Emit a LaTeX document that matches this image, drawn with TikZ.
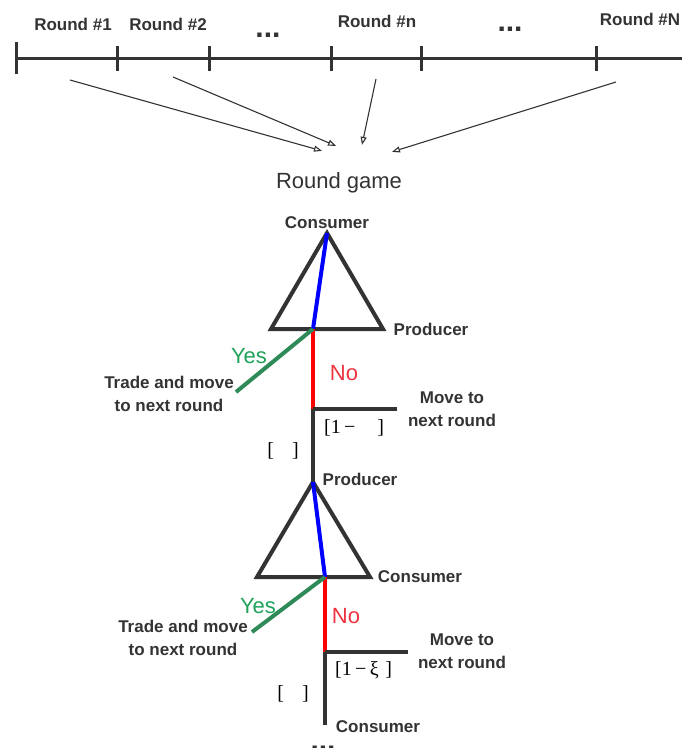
\documentclass[tikz,border=0pt]{standalone}
\usepackage{fontspec}
\setmainfont{Liberation Sans}
\newfontfamily\brkfont{Liberation Serif}
\usetikzlibrary{arrows.meta}
\definecolor{txtgray}{HTML}{333333}
\definecolor{yesgreen}{HTML}{2E8B57}
\definecolor{yestext}{HTML}{1FA35A}
\definecolor{nored}{HTML}{FF0000}
\definecolor{notext}{HTML}{EE3340}
\definecolor{edgeblue}{HTML}{0000FF}

\begin{document}
\begin{tikzpicture}[x=1pt,y=-1pt,
    lbl/.style={font=\fontsize{17}{23}\selectfont\bfseries, text=txtgray, inner sep=0pt, align=center},
    dots/.style={font=\fontsize{30}{30}\selectfont\bfseries, text=txtgray, inner sep=0pt},
    brk/.style={font=\fontsize{20}{22}\selectfont\brkfont, text=black, inner sep=0pt},
    axis/.style={line width=3pt, draw=txtgray},
    tri/.style={line width=4pt, draw=txtgray},
    edge/.style={line width=4pt},
    feed/.style={line width=1.1pt, draw=txtgray, -{Triangle[open, length=8pt, width=6pt]}}]
  \useasboundingbox (0,0) rectangle (682,748);

  \draw[axis] (16,58) -- (682,58);
  \draw[axis] (16,42) -- (16,74);
  \foreach \x in {117,209,331,421,596}
    \draw[axis] (\x,46) -- (\x,71);

  \node[lbl, anchor=base] (round1) at (73,30) {Round \#1};
  \node[lbl, anchor=base] (round2) at (168,30) {Round \#2};
  \node[dots, anchor=base] (gap1) at (268,37) {...};
  \node[lbl, anchor=base] (roundn) at (377,27) {Round \#n};
  \node[dots, anchor=base] (gap2) at (510,31) {...};
  \node[lbl, anchor=base] (roundN) at (640,25) {Round \#N};

  \node[font=\fontsize{22}{24}\selectfont, text=txtgray, inner sep=0pt, anchor=base] (game) at (339,188) {Round game};

  \coordinate (from1) at (70,80);
  \coordinate (from2) at (173,77);
  \coordinate (fromn) at (376,79);
  \coordinate (fromN) at (616,82);
  \draw[feed] (from1) -- ([xshift=-17pt,yshift=21pt]game.north);
  \draw[feed] (from2) -- ([xshift=-3pt,yshift=26pt]game.north);
  \draw[feed] (fromn) -- ([xshift=23pt,yshift=27pt]game.north);
  \draw[feed] (fromN) -- ([xshift=53pt,yshift=20pt]game.north);

  \coordinate (apex1) at (327,233);
  \coordinate (left1) at (271,329);
  \coordinate (right1) at (383,329);
  \coordinate (node1) at (313,329);
  \coordinate (no1) at (313,409);
  \coordinate (move1) at (397,409);
  \coordinate (yes1) at (236,392);

  \coordinate (apex2) at (313,482);
  \coordinate (left2) at (257,577);
  \coordinate (right2) at (370,577);
  \coordinate (node2) at (325,577);
  \coordinate (no2) at (325,652);
  \coordinate (move2) at (408,652);
  \coordinate (yes2) at (252,632);
  \coordinate (next2) at (325,725);

  \draw[tri] (apex1) -- (left1) -- (right1) -- cycle;
  \draw[tri] (apex2) -- (left2) -- (right2) -- cycle;
  \draw[edge, edgeblue] (apex1) -- (node1);
  \draw[edge, nored] (node1) -- (no1);
  \draw[edge, yesgreen] (node1) -- (yes1);
  \draw[tri] (no1) -- (move1);
  \draw[tri] (no1) -- (apex2);
  \draw[edge, edgeblue] (apex2) -- (node2);
  \draw[edge, nored] (node2) -- (no2);
  \draw[edge, yesgreen] (node2) -- (yes2);
  \draw[tri] (no2) -- (move2);
  \draw[tri] (no2) -- (next2);

  \node[lbl, anchor=base] (cons1) at (327,228) {Consumer};
  \node[lbl, anchor=base] (prod1) at (431,335) {Producer};
  \node[font=\fontsize{22}{24}\selectfont, text=yestext, inner sep=0pt, anchor=base] (yeslbl1) at (249,363) {Yes};
  \node[font=\fontsize{22}{24}\selectfont, text=notext, inner sep=0pt, anchor=base] (nolbl1) at (344,380) {No};
  \node[lbl] (trade1) at (169,394) {Trade and move\\to next round};
  \node[lbl] (next1) at (452,409) {Move to\\next round};
  \node[brk, anchor=base west] (stay1) at (324,433) {[1\,−\hspace{22pt}]};
  \node[brk, anchor=base] (pay1) at (283,456) {[\hspace{18pt}]};

  \node[lbl, anchor=base] (prod2) at (360,485) {Producer};
  \node[lbl, anchor=base] (cons2) at (420,582) {Consumer};
  \node[font=\fontsize{22}{24}\selectfont, text=yestext, inner sep=0pt, anchor=base] (yeslbl2) at (258,613) {Yes};
  \node[font=\fontsize{22}{24}\selectfont, text=notext, inner sep=0pt, anchor=base] (nolbl2) at (346,623) {No};
  \node[lbl] (trade2) at (183,638) {Trade and move\\to next round};
  \node[lbl] (next2lbl) at (462,651) {Move to\\next round};
  \node[brk, anchor=base west] (stay2) at (335,675) {[1\,−\,ξ\,\,]};
  \node[brk, anchor=base] (pay2) at (293,699) {[\hspace{18pt}]};
  \node[lbl, anchor=base] (cons3) at (378,732) {Consumer};
  \node[dots, anchor=base] (more) at (323,750) {...};
\end{tikzpicture}
\end{document}
